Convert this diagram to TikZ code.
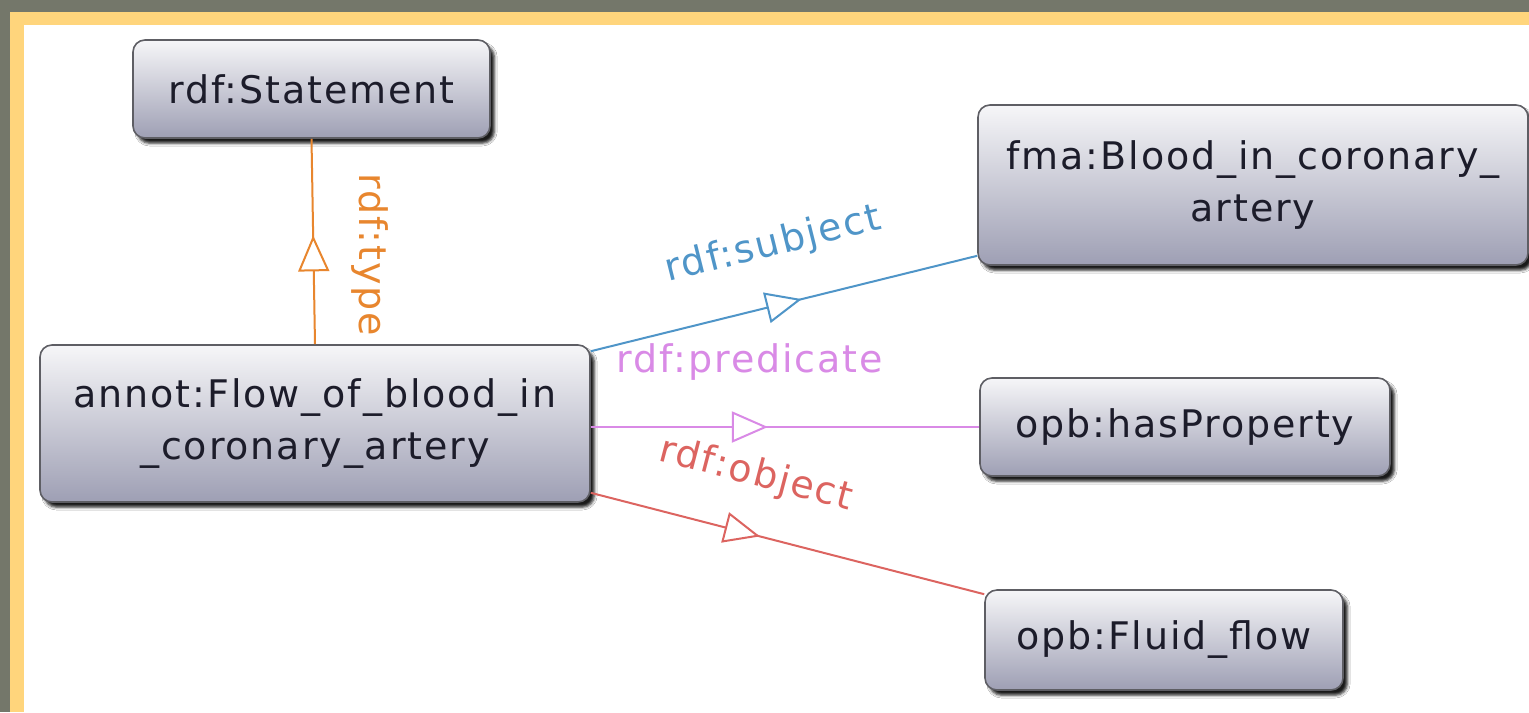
\documentclass[tikz,border=0pt]{standalone}
\usepackage{fontspec}
\setmainfont{DejaVu Sans}[LetterSpace=5]
\usetikzlibrary{calc,shadows,shadows.blur,decorations.markings,arrows.meta}

\definecolor{framedark}{HTML}{74776A}
\definecolor{frameyellow}{HTML}{FFD57C}
\definecolor{boxtop}{HTML}{F6F6F8}
\definecolor{boxbottom}{HTML}{9E9FB4}
\definecolor{boxedge}{HTML}{5E5E64}
\definecolor{boxtext}{HTML}{1C1C2A}
\definecolor{typecol}{HTML}{E8862E}
\definecolor{subjcol}{HTML}{4F95C8}
\definecolor{predcol}{HTML}{D98AE6}
\definecolor{objcol}{HTML}{DC6460}

\begin{document}
\begin{tikzpicture}[x=0.5pt,y=-0.5pt,
  owlclass/.style={draw=boxedge, line width=0.8pt, rounded corners=6pt,
    top color=boxtop, bottom color=boxbottom, text=boxtext,
    font=\fontsize{19pt}{26pt}\selectfont, align=center, inner sep=0pt,
    blur shadow={shadow xshift=2.2pt, shadow yshift=-2.6pt,
      shadow blur radius=1.4pt, shadow opacity=90}},
  edgelbl/.style={font=\fontsize{19pt}{24pt}\selectfont, inner sep=0pt},
  relation/.style={line width=1pt},
  midtip/.style={postaction={decorate, decoration={markings,
    mark=at position #1 with {\arrow{Triangle[length=18pt,width=15.5pt,fill=white,line width=1pt]}}}}}
]
\useasboundingbox (0,0) rectangle (1529,712);

% frame
\fill[framedark] (0,0) rectangle (1529,712);
\fill[frameyellow] (10,12) rectangle (1529,712);
\fill[white] (24,25) rectangle (1529,712);

% classes
\node[owlclass, minimum width=178.5pt, minimum height=49pt] (stmt) at (311.5,89) {rdf:Statement};
\node[owlclass, minimum width=275pt, minimum height=78.5pt] (annot) at (315,423.5)
  {annot:Flow\_of\_blood\_in\\\_coronary\_artery};
\node[owlclass, minimum width=275pt, minimum height=80pt] (fma) at (1253,185)
  {fma:Blood\_in\_coronary\_\\artery};
\node[owlclass, minimum width=205pt, minimum height=49pt] (prop) at (1185,427) {opb:hasProperty};
\node[owlclass, minimum width=179pt, minimum height=50pt] (fluid) at (1164,640) {opb:Fluid\_flow};

% relations
\draw[relation, typecol, midtip=0.53] (annot.north) -- (stmt.south);
\draw[relation, subjcol, midtip=0.546] ($(annot.north east)+(0,7)$) -- ($(fma.south west)+(0,-10)$);
\draw[relation, predcol, midtip=0.456] (annot.east |- prop.west) -- (prop.west);
\draw[relation, objcol, midtip=0.43] ($(annot.south east)+(0,-10)$) -- ($(fluid.north west)+(0,5)$);

% relation labels
\node[edgelbl, text=typecol, rotate=-90] (typelbl) at (370,255) {rdf:type};
\node[edgelbl, text=subjcol, rotate=14] (subjlbl) at (773,245) {rdf:subject};
\node[edgelbl, text=predcol] (predlbl) at (750,362) {rdf:predicate};
\node[edgelbl, text=objcol, rotate=-14.6] (objlbl) at (756,475) {rdf:object};
\end{tikzpicture}
\end{document}
